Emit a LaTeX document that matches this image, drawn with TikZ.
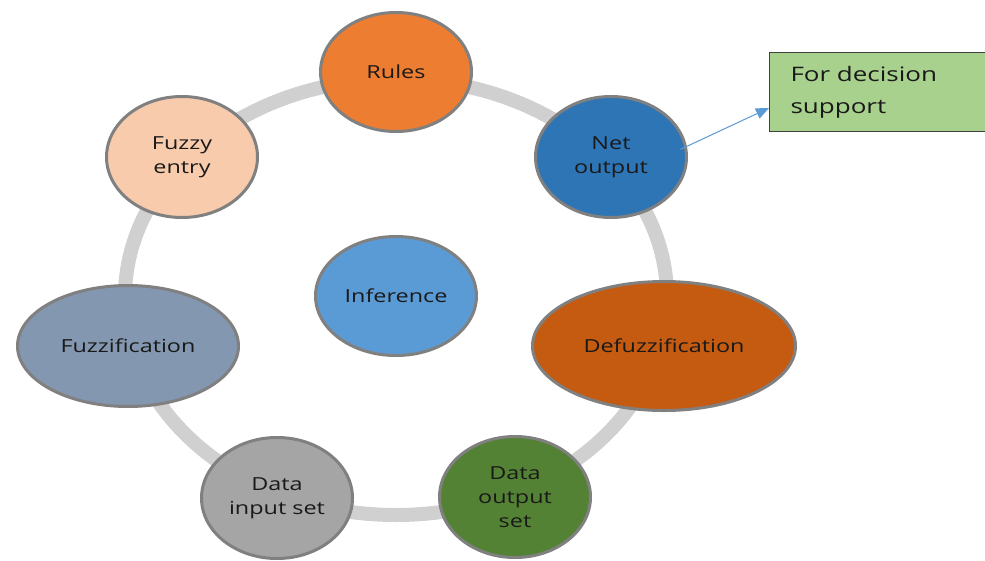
\documentclass[tikz,border=0pt]{standalone}
\usepackage{fontspec}
\setmainfont[FakeStretch=1.3]{Open Sans}
\usepackage{tikz}
\usetikzlibrary{shapes.geometric,arrows.meta}
\definecolor{myring}{RGB}{208,208,208}
\definecolor{myedge}{RGB}{128,128,128}
\definecolor{myrules}{RGB}{237,125,49}
\definecolor{mynet}{RGB}{46,117,182}
\definecolor{myentry}{RGB}{248,203,173}
\definecolor{myinfer}{RGB}{91,155,213}
\definecolor{myfuzz}{RGB}{132,151,176}
\definecolor{mydefuzz}{RGB}{197,90,17}
\definecolor{myinput}{RGB}{165,165,165}
\definecolor{myoutput}{RGB}{84,130,53}
\definecolor{mybox}{RGB}{169,209,142}
\definecolor{myboxedge}{RGB}{64,64,64}

\begin{document}
\begin{tikzpicture}[x=1pt,y=-1pt,
  stage/.style={ellipse,draw=myedge,line width=3pt,inner sep=0pt,
    minimum width=151pt,minimum height=119pt,align=center,
    text=black!90,font=\fontsize{18}{24}\selectfont}]
  \clip (0,0) rectangle (985,560);
  \fill[white] (0,0) rectangle (985,560);
  \draw[myring,line width=14pt] (396,297) ellipse [x radius=271,y radius=218];
  \node[stage,fill=myrules] (rules) at (396,72) {Rules};
  \node[stage,fill=mynet,minimum height=121pt] (net) at (611,157) {Net\\output};
  \node[stage,fill=myentry,minimum height=121pt] (entry) at (182,157) {Fuzzy\\entry};
  \node[stage,fill=myinfer,minimum width=161pt] (infer) at (396,296) {Inference};
  \node[stage,fill=myfuzz,minimum width=221pt,minimum height=121pt] (fuzz) at (128,346) {Fuzzification};
  \node[stage,fill=mydefuzz,minimum width=263pt,minimum height=129pt] (defuzz) at (664,346) {Defuzzification};
  \node[stage,fill=myinput,minimum height=121pt] (input) at (277,498) {Data\\input set};
  \node[stage,fill=myoutput,minimum height=121pt] (output) at (515,497) {Data\\output\\set};
  \node[draw=myboxedge,fill=mybox,line width=1pt,anchor=north west,
    text width=190pt,inner xsep=21pt,minimum height=79pt,align=left,
    text=black!90,font=\fontsize{20}{32}\selectfont] (box) at (769,52) {For decision\\support};
  \coordinate (tip) at (769,108);
  \draw[myinfer,line width=1pt,shorten <=-7pt,-{Triangle[length=13pt,width=11pt]}] (net.8) -- (tip);
\end{tikzpicture}
\end{document}
